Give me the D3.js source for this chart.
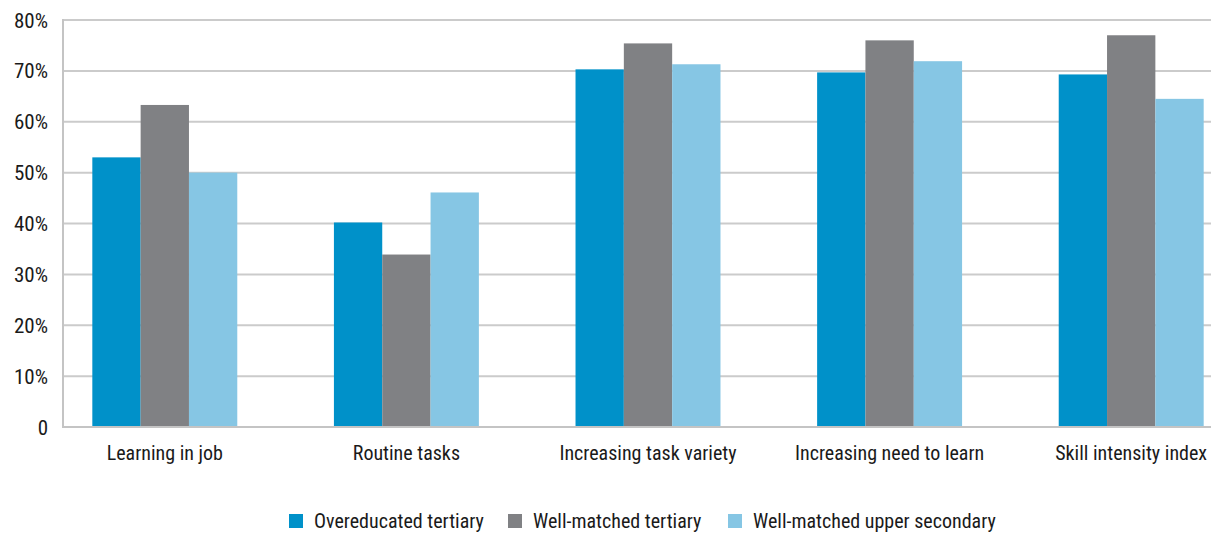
<!DOCTYPE html>
<html>
<head>
<meta charset="utf-8">
<script src="https://cdn.jsdelivr.net/npm/d3@7"></script>
<style>
  body { margin: 0; background: #fff; }
  text { font-family: "Liberation Sans Narrow", "Arial Narrow", "Roboto Condensed", sans-serif; fill: #1a1a1a; }
</style>
</head>
<body>
<div id="chart"></div>
<script>
// data
var categories = ["Learning in job", "Routine tasks", "Increasing task variety", "Increasing need to learn", "Skill intensity index"];
var seriesNames = ["Overeducated tertiary", "Well-matched tertiary", "Well-matched upper secondary"];
var overeducated = [53.0, 40.2, 70.3, 69.7, 69.3];
var matchedTertiary = [63.3, 33.9, 75.4, 76.0, 77.0];
var matchedUpper = [50.0, 46.1, 71.3, 71.9, 64.5];
var yTicks = [0, 10, 20, 30, 40, 50, 60, 70, 80];
var colors = ["#0091c9", "#808184", "#86c6e4"];

var width = 1211, height = 533;
var plotLeft = 63, plotTop = 20, plotBottom = 427;

var svg = d3.select("#chart").append("svg")
    .attr("width", width)
    .attr("height", height);

var y = d3.scaleLinear().domain([0, 80]).range([plotBottom, plotTop]);

var x = d3.scaleBand()
    .domain(categories)
    .range([44, 1252])
    .paddingInner(0.4)
    .paddingOuter(0.2);

var xs = d3.scaleBand()
    .domain(seriesNames)
    .range([0, x.bandwidth()]);

// gridlines
svg.append("g").selectAll("line")
    .data(yTicks.filter(function(d) { return d > 0; }))
  .enter().append("line")
    .attr("x1", plotLeft).attr("x2", width)
    .attr("y1", function(d) { return y(d); })
    .attr("y2", function(d) { return y(d); })
    .attr("stroke", "#cbcbcb")
    .attr("stroke-width", 2);

// y tick labels
svg.append("g").selectAll("text")
    .data(yTicks)
  .enter().append("text")
    .attr("x", 48)
    .attr("y", function(d) { return y(d); })
    .attr("dy", "0.36em")
    .attr("text-anchor", "end")
    .style("font-size", "21px")
    .text(function(d) { return d === 0 ? "0" : d + "%"; });

// bars
var rows = categories.map(function(c, i) {
  return [overeducated[i], matchedTertiary[i], matchedUpper[i]];
});

var groups = svg.append("g").selectAll("g")
    .data(rows)
  .enter().append("g")
    .attr("transform", function(d, i) { return "translate(" + x(categories[i]) + ",0)"; });

groups.selectAll("rect")
    .data(function(d) { return d; })
  .enter().append("rect")
    .attr("x", function(d, j) { return xs(seriesNames[j]); })
    .attr("width", xs.bandwidth())
    .attr("y", function(d) { return y(d); })
    .attr("height", function(d) { return plotBottom - y(d); })
    .attr("fill", function(d, j) { return colors[j]; });

// axes lines
svg.append("line")
    .attr("x1", plotLeft).attr("x2", plotLeft)
    .attr("y1", plotTop - 1).attr("y2", plotBottom + 1)
    .attr("stroke", "#c4c4c4").attr("stroke-width", 2);
svg.append("line")
    .attr("x1", plotLeft).attr("x2", width)
    .attr("y1", plotBottom).attr("y2", plotBottom)
    .attr("stroke", "#c4c4c4").attr("stroke-width", 2);

// category labels
svg.append("g").selectAll("text")
    .data(categories)
  .enter().append("text")
    .attr("x", function(d) { return x(d) + x.bandwidth() / 2; })
    .attr("y", 460)
    .attr("text-anchor", "middle")
    .style("font-size", "20px")
    .text(function(d) { return d; });

// legend
var legendX = [289, 508, 728];
var legend = svg.append("g").selectAll("g")
    .data(seriesNames)
  .enter().append("g")
    .attr("transform", function(d, i) { return "translate(" + legendX[i] + ",514)"; });

legend.append("rect")
    .attr("width", 14).attr("height", 14)
    .attr("fill", function(d, i) { return colors[i]; });

legend.append("text")
    .attr("x", 25)
    .attr("y", 14)
    .style("font-size", "20px")
    .text(function(d) { return d; });
</script>
</body>
</html>
